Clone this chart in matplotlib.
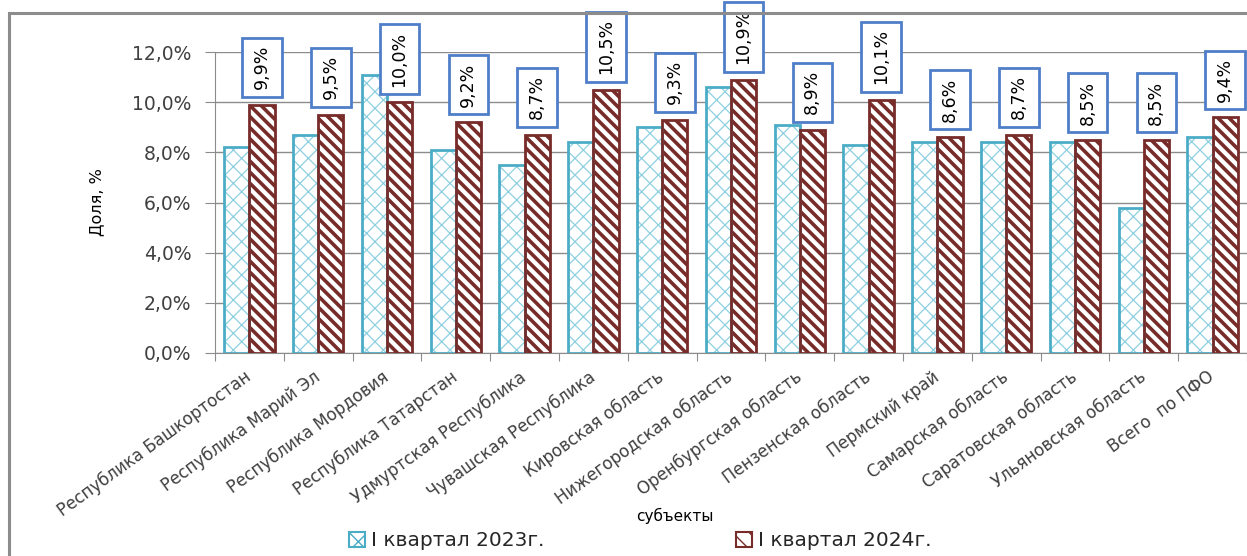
import matplotlib
matplotlib.use('Agg')
import matplotlib.pyplot as plt
import numpy as np
from matplotlib.patches import Rectangle, Patch
from matplotlib.path import Path

# data
regions = [
    'Республика Башкортостан', 'Республика Марий Эл', 'Республика Мордовия',
    'Республика Татарстан', 'Удмуртская Республика', 'Чувашская Республика',
    'Кировская область', 'Нижегородская область', 'Оренбургская область',
    'Пензенская область', 'Пермский край', 'Самарская область',
    'Саратовская область', 'Ульяновская область', 'Всего  по ПФО',
]
q1_2023 = [8.2, 8.7, 11.1, 8.1, 7.5, 8.4, 9.0, 10.6, 9.1, 8.3, 8.4, 8.4, 8.4, 5.8, 8.6]
q1_2024 = [9.9, 9.5, 10.0, 9.2, 8.7, 10.5, 9.3, 10.9, 8.9, 10.1, 8.6, 8.7, 8.5, 8.5, 9.4]
series_names = ['I квартал 2023г.', 'I квартал 2024г.']
yticks = [0, 2, 4, 6, 8, 10, 12]

plt.rcParams['font.family'] = 'DejaVu Sans'
text_col = '#404040'
grid_col = '#8C8C8C'
cyan = '#4BACC6'
cyan_light = '#8ED0E0'
red = '#772C2A'

W, H = 1247, 556
fig = plt.figure(figsize=(W / 100, H / 100), dpi=100)
ax = fig.add_axes([215 / W, 1 - 353 / H, 1032 / W, 301 / H])

# outer chart frame (cropped at right and bottom)
fig.patches.append(Rectangle((9 / W, -0.1), 1.2, 1.1 - 13 / H, transform=fig.transFigure,
                             fill=False, edgecolor='#8C8C8C', lw=2.2, zorder=0))

x = np.arange(len(regions))
w = 0.365

with plt.rc_context({'hatch.linewidth': 0.9}):
    ax.bar(x - w / 2, q1_2023, w, color='white', edgecolor=cyan_light, hatch='xx',
           lw=0, zorder=2)
ax.bar(x - w / 2, q1_2023, w, fill=False, edgecolor=cyan, lw=2, zorder=3)

with plt.rc_context({'hatch.linewidth': 2.6}):
    ax.bar(x + w / 2, q1_2024, w, color='white', edgecolor=red, hatch='\\\\\\',
           lw=0, zorder=2)
ax.bar(x + w / 2, q1_2024, w, fill=False, edgecolor=red, lw=2, zorder=3)


# box with more padding across the (rotated) text than along it
def label_box(x0, y0, width, height, mutation_size):
    pl = 0.42 * mutation_size
    pw = 0.62 * mutation_size
    x0, y0 = x0 - pl, y0 - pw
    x1, y1 = x0 + width + 2 * pl, y0 + height + 2 * pw
    return Path([(x0, y0), (x1, y0), (x1, y1), (x0, y1), (x0, y0)], closed=True)


for xi, v in zip(x, q1_2024):
    ax.annotate(f'{v:.1f}%'.replace('.', ','), xy=(xi + w / 2, v), xytext=(0, 11),
                textcoords='offset points', rotation=90, ha='center', va='bottom',
                fontsize=12.5, color='black', zorder=5, annotation_clip=False,
                bbox=dict(boxstyle=label_box, fc='white', ec='#4F7EC8', lw=2))

ax.set_xlim(-0.5, len(regions) - 0.5)
ax.set_ylim(0, 12)
ax.set_yticks(yticks)
ax.set_yticklabels([f'{t:.1f}%'.replace('.', ',') for t in yticks], fontsize=13.5, color=text_col)
ax.yaxis.grid(True, color=grid_col, lw=1)
ax.set_axisbelow(True)

ax.set_xticks(np.arange(-0.5, len(regions), 1))
ax.set_xticklabels([])
ax.set_xticks(x, minor=True)
ax.set_xticklabels(regions, minor=True, rotation=36, ha='right', va='center',
                   rotation_mode='anchor', fontsize=12, color=text_col)
ax.tick_params(axis='x', which='minor', length=0, pad=16)
ax.tick_params(axis='x', which='major', length=6, color=grid_col)
ax.tick_params(axis='y', length=7, color=grid_col, pad=10)

for s in ['top', 'right']:
    ax.spines[s].set_visible(False)
ax.spines['left'].set_color(grid_col)
ax.spines['bottom'].set_color(grid_col)

fig.text(97 / W, 1 - 202 / H, 'Доля, %', rotation=90, ha='center', va='center',
         fontsize=11.5, color='black')
fig.text(675 / W, 1 - 516 / H, 'субъекты', ha='center', va='center',
         fontsize=11, color='black')

handles = [
    Patch(facecolor='white', edgecolor=cyan, hatch='xx', lw=1.5),
    Patch(facecolor='white', edgecolor=red, hatch='\\\\', lw=1.5),
]
fig.legend(handles, series_names, loc='center', bbox_to_anchor=(640 / W, 1 - 541 / H),
           ncol=2, frameon=False, fontsize=14.5, handlelength=0.8, handleheight=0.8,
           handletextpad=0.3, columnspacing=9.5, labelcolor='#262626')

fig.savefig('out.png', dpi=100)
